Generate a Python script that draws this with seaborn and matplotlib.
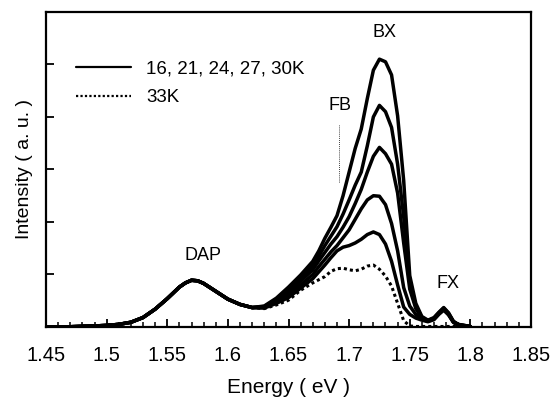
import numpy as np
import pandas as pd
import matplotlib
matplotlib.use("Agg")
import matplotlib.pyplot as plt
import seaborn as sns
from matplotlib.ticker import MultipleLocator

sns.set_theme(style="ticks")
plt.rcParams['font.family'] = ['Liberation Sans', 'DejaVu Sans']
plt.rcParams['text.color'] = 'black'
plt.rcParams['axes.labelcolor'] = 'black'
plt.rcParams['xtick.color'] = 'black'
plt.rcParams['ytick.color'] = 'black'

# shared low-energy part (DAP band, all temperatures overlap)
energy_low = [1.45, 1.47, 1.49, 1.50, 1.51, 1.52, 1.53, 1.54, 1.55, 1.56, 1.565,
              1.57, 1.575, 1.58, 1.59, 1.60, 1.61, 1.62]
dap_low = [0.0, 0.005, 0.02, 0.03, 0.05, 0.09, 0.18, 0.34, 0.54, 0.76, 0.84,
           0.89, 0.88, 0.83, 0.68, 0.53, 0.43, 0.37]

# high-energy part (FB / BX / FX region)
energy_high = [1.63, 1.64, 1.65, 1.66, 1.67, 1.675, 1.68, 1.685, 1.69, 1.695,
               1.70, 1.705, 1.71, 1.715, 1.72, 1.725, 1.73, 1.735, 1.74, 1.745,
               1.75, 1.755, 1.76, 1.765, 1.77, 1.774, 1.778, 1.782, 1.786, 1.79, 1.80]
t16 = [0.40, 0.55, 0.76, 0.99, 1.25, 1.45, 1.69, 1.90, 2.12, 2.50,
       2.95, 3.40, 3.77, 4.35, 4.89, 5.10, 5.05, 4.80, 4.02, 2.79,
       0.98, 0.45, 0.20, 0.13, 0.18, 0.28, 0.37, 0.27, 0.11, 0.05, 0.01]
t21 = [0.39, 0.52, 0.71, 0.93, 1.17, 1.35, 1.55, 1.73, 1.91, 2.15,
       2.42, 2.70, 2.95, 3.45, 4.00, 4.22, 4.10, 3.80, 3.10, 2.10,
       0.85, 0.40, 0.18, 0.12, 0.17, 0.27, 0.36, 0.26, 0.10, 0.05, 0.01]
t24 = [0.38, 0.50, 0.66, 0.87, 1.09, 1.26, 1.42, 1.58, 1.72, 1.90,
       2.10, 2.35, 2.62, 2.95, 3.25, 3.42, 3.30, 3.10, 2.55, 1.60,
       0.72, 0.35, 0.17, 0.12, 0.16, 0.26, 0.35, 0.25, 0.10, 0.04, 0.01]
t27 = [0.37, 0.47, 0.61, 0.80, 1.00, 1.15, 1.29, 1.43, 1.55, 1.70,
       1.85, 2.05, 2.25, 2.42, 2.50, 2.49, 2.33, 1.97, 1.45, 0.75,
       0.40, 0.24, 0.15, 0.11, 0.15, 0.25, 0.34, 0.24, 0.09, 0.04, 0.01]
t30 = [0.36, 0.45, 0.56, 0.74, 0.92, 1.05, 1.18, 1.32, 1.45, 1.52,
       1.55, 1.60, 1.67, 1.76, 1.81, 1.76, 1.58, 1.25, 0.80, 0.38,
       0.24, 0.17, 0.13, 0.10, 0.14, 0.24, 0.32, 0.23, 0.09, 0.03, 0.01]
t33 = [0.35, 0.42, 0.51, 0.70, 0.84, 0.90, 0.96, 1.06, 1.11, 1.12,
       1.09, 1.07, 1.10, 1.16, 1.18, 1.10, 0.97, 0.78, 0.45, 0.12,
       0.02, 0.01, 0.01, 0.01, 0.01, 0.01, 0.01, 0.01, 0.01, 0.01, 0.01]

solid_label = "16, 21, 24, 27, 30K"
dotted_label = "33K"

fig = plt.figure(figsize=(5.53, 4.05), dpi=100)
ax = fig.add_axes([0.0832, 0.1926, 0.877, 0.778])

energy = energy_low + energy_high
for i, vals in enumerate([t16, t21, t24, t27, t30]):
    sns.lineplot(x=energy, y=dap_low + vals, ax=ax, color="black", lw=2.5,
                 sort=False, estimator=None,
                 label=solid_label if i == 0 else "_nolegend_")
sns.lineplot(x=energy, y=dap_low + t33, ax=ax, color="black", lw=2.2,
             linestyle=(0, (1, 1)), sort=False, estimator=None, label=dotted_label)

# FB marker line
ax.plot([1.6917, 1.6917], [2.76, 3.84], color="black", lw=0.6, linestyle=(0, (1, 1.5)))

fs_ann = 13
ax.text(1.7288, 5.60, "BX", ha="center", va="center", fontsize=fs_ann)
ax.text(1.6925, 4.22, "FB", ha="center", va="center", fontsize=fs_ann)
ax.text(1.5798, 1.37, "DAP", ha="center", va="center", fontsize=fs_ann)
ax.text(1.7813, 0.82, "FX", ha="center", va="center", fontsize=fs_ann)

ax.set_xlim(1.45, 1.85)
ax.set_ylim(0, 6.0)
ax.xaxis.set_minor_locator(MultipleLocator(0.01))
ax.set_xticks(np.arange(1.45, 1.851, 0.05))
ax.set_xticklabels(["1.45", "1.5", "1.55", "1.6", "1.65", "1.7", "1.75", "1.8", "1.85"])
ax.set_yticks([1, 2, 3, 4, 5])
ax.set_yticklabels([])
ax.tick_params(axis="x", which="major", direction="in", length=6, width=1.3,
               labelsize=14.5, pad=14, top=False)
ax.tick_params(axis="x", which="minor", direction="in", length=3.5, width=1.1, top=False)
ax.tick_params(axis="y", which="major", direction="in", length=6, width=1.3, right=False)

for s in ax.spines.values():
    s.set_linewidth(1.6)
    s.set_color("black")

ax.set_xlabel("Energy ( eV )", fontsize=15, labelpad=9)
ax.set_ylabel("Intensity ( a. u. )", fontsize=14, labelpad=6)

leg = ax.legend(loc="upper left", bbox_to_anchor=(0.062, 0.845), frameon=False,
                fontsize=13.5, handlelength=2.93, handletextpad=0.8, labelspacing=0.6,
                borderpad=0, borderaxespad=0)
for h in leg.get_lines():
    h.set_linewidth(1.6)

fig.savefig("out.png", dpi=100)
